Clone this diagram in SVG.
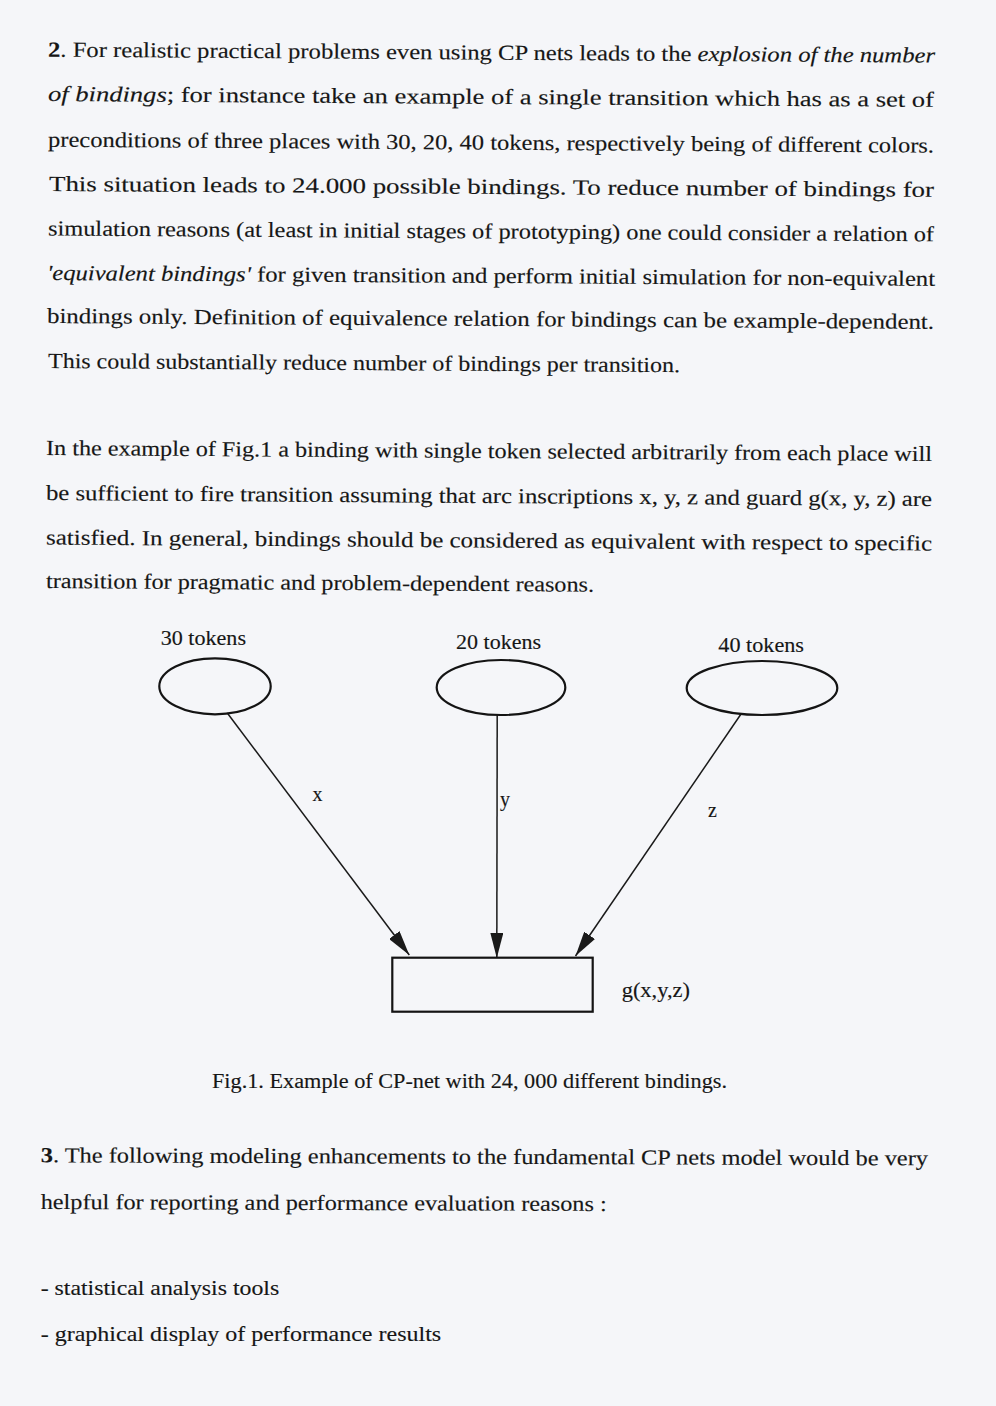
<svg xmlns="http://www.w3.org/2000/svg" width="996" height="1406" viewBox="0 0 996 1406">
<style>
.body{font-family:"Liberation Serif","Times New Roman",serif;font-size:21.5px;fill:#161616;stroke:#161616;stroke-width:0.15}
.lbl{font-family:"Liberation Serif","Times New Roman",serif;font-size:20px;fill:#161616;stroke:#161616;stroke-width:0.15}
.cap{font-family:"Liberation Serif","Times New Roman",serif;font-size:20.5px;fill:#161616;stroke:#161616;stroke-width:0.15}
.it{font-style:italic}
.b{font-weight:bold}
.place{fill:none;stroke:#141414;stroke-width:2.2}
.trans{fill:none;stroke:#141414;stroke-width:2.2}
.arc{fill:none;stroke:#1a1a1a;stroke-width:1.5}
</style>
<defs>
<marker id="arrow" viewBox="0 0 25 13" refX="25" refY="6.5" markerWidth="25" markerHeight="13" markerUnits="userSpaceOnUse" orient="auto">
<path d="M0,0 L25,6.5 L0,13 z" fill="#1a1a1a"/>
</marker>
</defs>
<rect x="0" y="0" width="996" height="1406" fill="#f5f6f9"/>

<g id="para1" class="body">
<text x="48" y="56.7" textLength="887" lengthAdjust="spacingAndGlyphs" transform="rotate(0.38 48 56.7)"><tspan class="b">2</tspan>. For realistic practical problems even using CP nets leads to the <tspan class="it">explosion of the number</tspan></text>
<text x="48" y="101" textLength="886" lengthAdjust="spacingAndGlyphs" transform="rotate(0.38 48 101)"><tspan class="it">of bindings</tspan>; for instance take an example of a single transition which has as a set of</text>
<text x="48" y="146.7" textLength="886" lengthAdjust="spacingAndGlyphs" transform="rotate(0.38 48 146.7)">preconditions of three places with 30, 20, 40 tokens, respectively being of different colors.</text>
<text x="49" y="191" textLength="885" lengthAdjust="spacingAndGlyphs" transform="rotate(0.38 49 191)">This situation leads to 24.000 possible bindings. To reduce number of bindings for</text>
<text x="48" y="235.5" textLength="886" lengthAdjust="spacingAndGlyphs" transform="rotate(0.38 48 235.5)">simulation reasons (at least in initial stages of prototyping) one could consider a relation of</text>
<text x="47" y="280" textLength="888" lengthAdjust="spacingAndGlyphs" transform="rotate(0.38 47 280)"><tspan class="it">'equivalent bindings'</tspan>  for given transition and perform initial simulation for non-equivalent</text>
<text x="47" y="323" textLength="887" lengthAdjust="spacingAndGlyphs" transform="rotate(0.38 47 323)">bindings only. Definition of equivalence relation for bindings can be example-dependent.</text>
<text x="48" y="368" textLength="632" lengthAdjust="spacingAndGlyphs" transform="rotate(0.38 48 368)">This could substantially reduce number of bindings per transition.</text>
</g>

<g id="para2" class="body">
<text x="46" y="455" textLength="886" lengthAdjust="spacingAndGlyphs" transform="rotate(0.39 46 455)">In the example of Fig.1 a binding with single token selected arbitrarily from each place will</text>
<text x="46" y="500" textLength="886" lengthAdjust="spacingAndGlyphs" transform="rotate(0.39 46 500)">be sufficient to fire transition assuming that arc inscriptions x, y, z and guard g(x, y, z) are</text>
<text x="46" y="544.5" textLength="886" lengthAdjust="spacingAndGlyphs" transform="rotate(0.39 46 544.5)">satisfied. In general, bindings should be considered as equivalent with respect to specific</text>
<text x="46" y="588" textLength="548" lengthAdjust="spacingAndGlyphs" transform="rotate(0.39 46 588)">transition for pragmatic and problem-dependent reasons.</text>
</g>

<g id="connectors">
<line class="arc" x1="227.3" y1="713" x2="409.3" y2="955" marker-end="url(#arrow)"/>
<line class="arc" x1="497.2" y1="715" x2="496.8" y2="958" marker-end="url(#arrow)"/>
<line class="arc" x1="740.7" y1="714.5" x2="575.5" y2="956" marker-end="url(#arrow)"/>
<text class="lbl" x="312.5" y="801">x</text>
<text class="lbl" x="500" y="806">y</text>
<text class="lbl" x="708" y="817">z</text>
</g>

<g id="place-30">
<ellipse class="place" cx="215" cy="686.3" rx="55.7" ry="28"/>
<text class="lbl" x="160.7" y="645" textLength="85.3" lengthAdjust="spacingAndGlyphs">30 tokens</text>
</g>
<g id="place-20">
<ellipse class="place" cx="501" cy="687.5" rx="64.3" ry="27.5"/>
<text class="lbl" x="456" y="648.5" textLength="85" lengthAdjust="spacingAndGlyphs">20 tokens</text>
</g>
<g id="place-40">
<ellipse class="place" cx="762" cy="688" rx="75.3" ry="27"/>
<text class="lbl" x="718.3" y="652.3" textLength="85.7" lengthAdjust="spacingAndGlyphs">40 tokens</text>
</g>
<g id="transition">
<rect class="trans" x="392.3" y="957.7" width="200.4" height="54"/>
<text class="lbl" x="621.7" y="997.3" textLength="68.3" lengthAdjust="spacingAndGlyphs">g(x,y,z)</text>
</g>

<text class="cap" x="212" y="1088.3" textLength="515" lengthAdjust="spacingAndGlyphs">Fig.1. Example of CP-net with 24, 000 different bindings.</text>

<g id="para3" class="body">
<text x="40.7" y="1162.3" textLength="887.3" lengthAdjust="spacingAndGlyphs" transform="rotate(0.2 40.7 1162.3)"><tspan class="b">3</tspan>. The following modeling enhancements to the fundamental CP nets model would be very</text>
<text x="40.7" y="1209" textLength="566" lengthAdjust="spacingAndGlyphs" transform="rotate(0.2 40.7 1209)">helpful for reporting and performance evaluation reasons :</text>
<text x="40.7" y="1295" textLength="238.5" lengthAdjust="spacingAndGlyphs">- statistical analysis tools</text>
<text x="40.7" y="1340.7" textLength="400.5" lengthAdjust="spacingAndGlyphs">- graphical display of performance results</text>
</g>
</svg>
